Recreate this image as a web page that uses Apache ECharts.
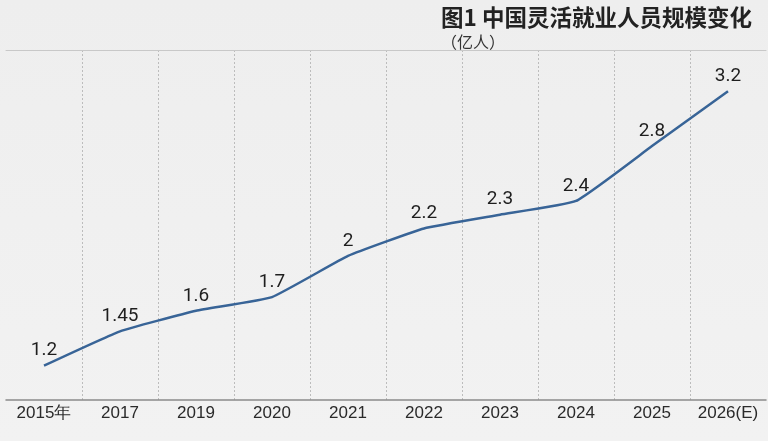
<!DOCTYPE html>
<html>
<head>
<meta charset="utf-8">
<script src="https://cdn.jsdelivr.net/npm/echarts@6/dist/echarts.min.js"></script>
<style>
html,body{margin:0;padding:0;background:#efefef;}
#c{width:768px;height:441px;}
</style>
</head>
<body>
<div id="c"></div>
<script>
var categories = ['2015年','2017','2019','2020','2021','2022','2023','2024','2025','2026(E)'];
var values = [1.2, 1.45, 1.6, 1.7, 2, 2.2, 2.3, 2.4, 2.8, 3.2];
var titleText = '图1 中国灵活就业人员规模变化';
var unitText = '（亿人）';

var chart = echarts.init(document.getElementById('c'), null, {renderer:'canvas'});
chart.setOption({
  backgroundColor: {
    type:'linear', x:0, y:0, x2:0, y2:1,
    colorStops:[{offset:0,color:'#eeeeee'},{offset:1,color:'#f2f2f2'}]
  },
  animation:false,
  title:[
    {text:titleText, right:11, top:1,
     textStyle:{fontFamily:'Noto Sans CJK SC', fontSize:22.5, fontWeight:'bold', color:'#222'}},
    {text:unitText, left:436, top:29,
     textStyle:{fontFamily:'Noto Sans CJK SC', fontSize:16, fontWeight:'normal', color:'#333'}}
  ],
  grid:{left:6, right:2, top:50, bottom:41, containLabel:false},
  xAxis:[{
    type:'category', data:categories, boundaryGap:true,
    axisLine:{show:true, lineStyle:{color:'#8a8a8a', width:1.5}},
    axisTick:{show:false},
    axisLabel:{show:true, interval:0, margin:5, color:'#2a2a2a', fontSize:17, fontFamily:'Liberation Sans'},
    splitLine:{show:true, interval:0, showMinLine:false, showMaxLine:false,
      lineStyle:{color:'#bcbcbc', type:[2,2], width:1}}
  },{
    type:'category', data:categories, position:'top',
    axisLine:{show:true, lineStyle:{color:'#c8c8c8', width:1}},
    axisTick:{show:false}, axisLabel:{show:false}, splitLine:{show:false}
  }],
  yAxis:{type:'value', min:0.95, max:3.5, show:false, splitLine:{show:false}},
  series:[{
    type:'line', data:values, smooth:0.12, symbol:'circle', symbolSize:1, showSymbol:true,
    itemStyle:{color:'#386497', opacity:0},
    lineStyle:{color:'#386497', width:2.5, opacity:1},
    label:{show:true, position:'top', distance:5, fontSize:19, color:'#1e1e1e', fontFamily:'Roboto', opacity:1},
    labelLayout:{hideOverlap:false}
  }]
});
</script>
</body>
</html>
